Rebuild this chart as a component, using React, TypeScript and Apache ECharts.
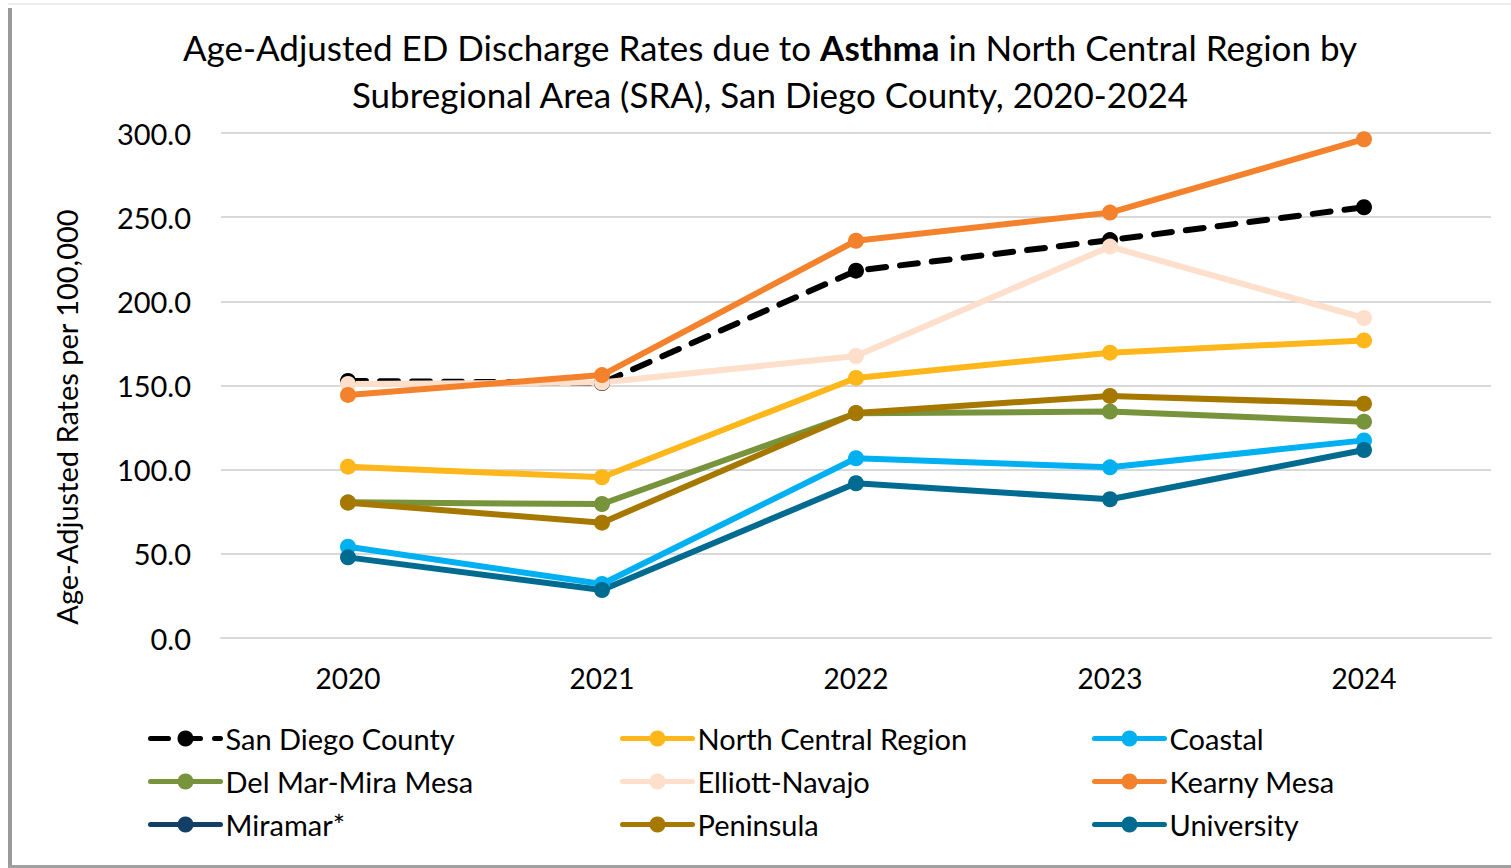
import React, { useEffect, useRef } from "react";
import * as echarts from "echarts";

const years = ["2020", "2021", "2022", "2023", "2024"];
const sanDiegoCounty = [152.7, 151.5, 218.2, 236.4, 255.9];
const northCentral = [101.8, 95.5, 154.5, 169.5, 176.8];
const coastal = [54.2, 32.1, 106.8, 101.4, 117.4];
const delMar = [80.6, 79.6, 133.5, 134.5, 128.5];
const elliott = [150.9, 151.8, 167.5, 232.5, 190.1];
const kearny = [144.4, 156.2, 236.0, 252.7, 296.3];
const miramar: (number | null)[] = [null, null, null, null, null];
const peninsula = [80.4, 68.5, 133.7, 143.8, 139.2];
const university = [47.9, 28.5, 91.9, 82.4, 111.7];

const seriesNames = [
  "San Diego County",
  "North Central Region",
  "Coastal",
  "Del Mar-Mira Mesa",
  "Elliott-Navajo",
  "Kearny Mesa",
  "Miramar*",
  "Peninsula",
  "University",
];
const seriesData = [sanDiegoCounty, northCentral, coastal, delMar, elliott, kearny, miramar, peninsula, university];
const colors = ["#000000", "#FDB71A", "#00B0F0", "#77933C", "#FDDFCB", "#F4812C", "#133E66", "#A67800", "#006B91"];

const FONT = "Lato, 'Open Sans', sans-serif";

export default function App() {
  const ref = useRef<HTMLDivElement>(null);
  useEffect(() => {
    if (!ref.current) return;
    const chart = echarts.init(ref.current, null, { renderer: "svg" });
    const legendCol = (names: string[], left: number) => ({
      data: names,
      orient: "vertical",
      left: left - 5,
      top: 719,
      itemWidth: 70,
      itemHeight: 20,
      itemGap: 14,
      lineStyle: { width: 5 },
      textStyle: { fontFamily: FONT, fontSize: 29, color: "#000", padding: [0, 0, 0, 0] },
    });
    chart.setOption({
      animation: false,
      backgroundColor: "#fff",
      title: {
        text: "{n|Age-Adjusted ED Discharge Rates due to }{b|Asthma}{n| in North Central Region by}\n{n|Subregional Area (SRA), San Diego County, 2020-2024}",
        left: 765,
        textAlign: "center",
        top: 18,
        textStyle: {
          rich: {
            n: { fontFamily: FONT, fontSize: 35, fontWeight: "normal", color: "#000", lineHeight: 47 },
            b: { fontFamily: FONT, fontSize: 35, fontWeight: "bold", color: "#000", lineHeight: 47 },
          },
        },
      },
      legend: [
        legendCol(["San Diego County", "Del Mar-Mira Mesa", "Miramar*"], 148),
        legendCol(["North Central Region", "Elliott-Navajo", "Peninsula"], 620),
        legendCol(["Coastal", "Kearny Mesa", "University"], 1092),
      ],
      grid: { left: 221, right: 20, top: 133, bottom: 230 },
      xAxis: {
        type: "category",
        data: years,
        boundaryGap: true,
        axisLine: { show: true, lineStyle: { color: "#D9D9D9", width: 2 } },
        axisTick: { show: false },
        axisLabel: { fontFamily: FONT, fontSize: 28, color: "#000", margin: 26 },
      },
      yAxis: {
        type: "value",
        min: 0,
        max: 300,
        interval: 50,
        axisLine: { show: false },
        axisTick: { show: false },
        splitLine: { lineStyle: { color: "#D9D9D9", width: 2 } },
        axisLabel: {
          fontFamily: FONT,
          fontSize: 29,
          color: "#000",
          margin: 30,
          formatter: (v: number) => v.toFixed(1),
        },
      },
      series: seriesNames.map((name, i) => ({
        name,
        type: "line",
        data: seriesData[i],
        color: colors[i],
        symbol: "circle",
        symbolSize: 16,
        connectNulls: false,
        lineStyle: { width: 6, color: colors[i], type: i === 0 ? [18, 14] : "solid", cap: "round" },
        itemStyle: { color: colors[i] },
      })),
      graphic: [
        {
          type: "text",
          x: 66,
          y: 417,
          rotation: Math.PI / 2,
          style: {
            text: "Age-Adjusted Rates per 100,000",
            fontFamily: FONT,
            fontSize: 29,
            fill: "#000",
            align: "center",
            verticalAlign: "middle",
          },
          silent: true,
        },
        { type: "rect", shape: { x: 8, y: 8, width: 4, height: 860 }, style: { fill: "#9a9a9a" }, silent: true },
        { type: "rect", shape: { x: 8, y: 865, width: 1503, height: 3 }, style: { fill: "#a0a0a0" }, silent: true },
        { type: "rect", shape: { x: 8, y: 3, width: 1503, height: 2 }, style: { fill: "#eeeeee" }, silent: true },
      ],
    });
    return () => chart.dispose();
  }, []);
  return <div ref={ref} style={{ position: "fixed", left: 0, top: 0, width: 1511, height: 868 }} />;
}
